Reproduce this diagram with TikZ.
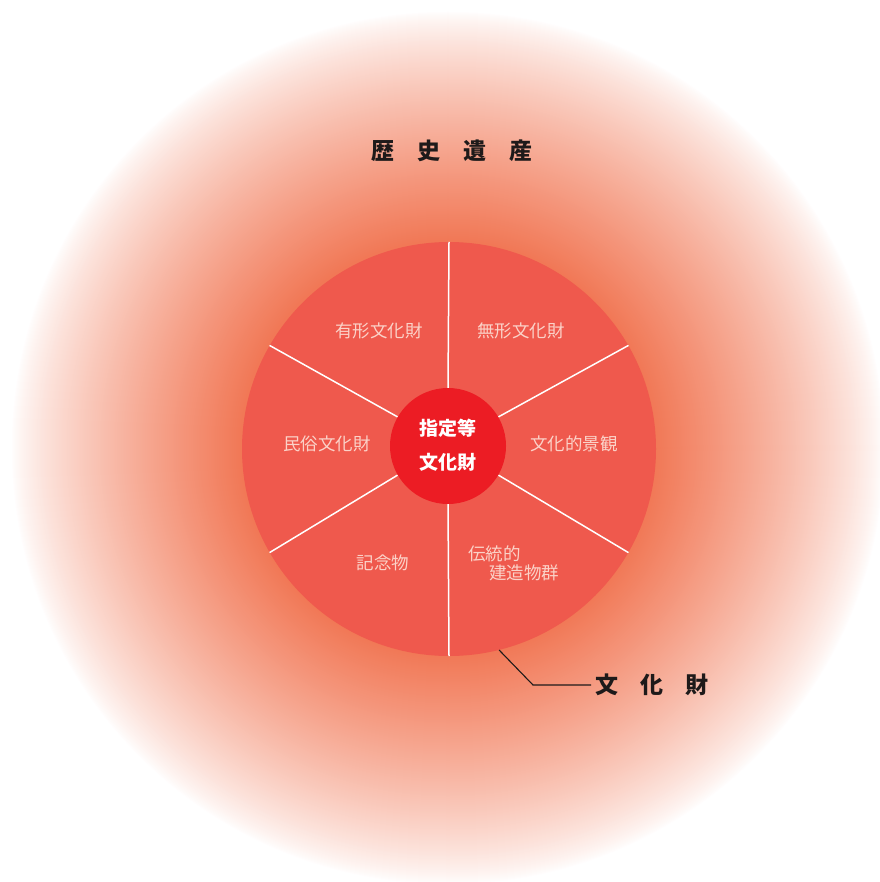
\documentclass[tikz,border=0pt]{standalone}
\usepackage{fontspec}
\newfontfamily\cjk{Noto Sans CJK JP}
\definecolor{glow}{RGB}{241,120,86}
\definecolor{wheelc}{RGB}{239,89,77}
\definecolor{hubc}{RGB}{236,28,36}
\definecolor{seglbl}{RGB}{251,210,200}
\definecolor{inkc}{RGB}{30,26,26}
\begin{document}
\begin{tikzpicture}[x=1pt,y=-1pt,
  seglabel/.style={font=\cjk\fontsize{17.5}{19}\selectfont, text=seglbl, inner sep=0pt},
  spoke/.style={draw=white, line width=1.5pt},
  heading/.style={font=\cjk\bfseries\fontsize{23}{26}\selectfont, text=inkc, inner sep=0pt},
  leader/.style={draw=inkc, line width=1.1pt}]
\useasboundingbox (0,0) rectangle (879,882);
\fill[white] (0,0) rectangle (879,882);
% glow
\foreach \i in {0,...,229}{
  \pgfmathsetmacro\rr{436-\i}
  \pgfmathsetmacro\mm{100*((\i+1)/230)^0.8}
  \fill[glow!\mm!white] (448,448) circle (\rr pt);
}
% wheel
\node[circle, fill=wheelc, minimum size=414pt, inner sep=0pt] (wheel) at (449,449) {};
\node[circle, minimum size=116pt, inner sep=0pt] (hubshape) at (448,446) {};
\foreach \a in {30,90,150,210,270,330}{
  \draw[spoke] (hubshape.\a) -- (wheel.\a);
}
\node[circle, fill=hubc, minimum size=116pt, inner sep=0pt] (hub) at (448,446) {};
\node[font=\cjk\bfseries\fontsize{19}{34}\selectfont, text=white, align=center, inner sep=0pt] (hubtext) at (448,445) {指定等\\文化財};
% segment labels
\node[seglabel] (yukei) at (379,331) {有形文化財};
\node[seglabel] (mukei) at (521,331) {無形文化財};
\node[seglabel] (minzoku) at (327,444) {民俗文化財};
\node[seglabel] (keikan) at (574,444) {文化的景観};
\node[seglabel] (kinen) at (383,563) {記念物};
\node[seglabel, align=left, anchor=west] (dento) at (468,563.5) {伝統的\\\hspace{21pt}建造物群};
% headings
\node[heading] (rekishi) at (452,151) {歴\hspace{23pt}史\hspace{23pt}遺\hspace{23pt}産};
\node[heading, anchor=west, inner xsep=4pt] (bunkazai) at (591,685) {文\hspace{22pt}化\hspace{22pt}財};
% leader
\coordinate (leadstart) at (wheel.-76.7);
\coordinate (elbow) at (533,685);
\draw[leader] (leadstart) -- (elbow) -- (bunkazai.west);
\end{tikzpicture}
\end{document}
